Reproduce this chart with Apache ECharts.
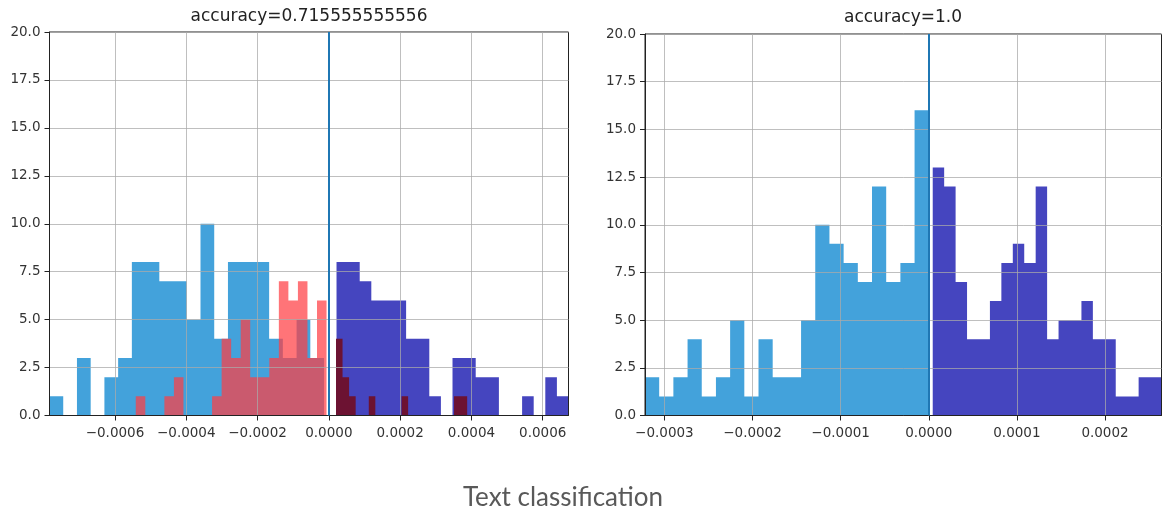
<!DOCTYPE html>
<html>
<head>
<meta charset="utf-8">
<script src="https://cdn.jsdelivr.net/npm/echarts@6/dist/echarts.min.js"></script>
<style>
html,body{margin:0;padding:0;background:#fff;}
#chart{width:1163px;height:513px;}
</style>
</head>
<body>
<div id="chart"></div>
<script>
// ---- data ----
const leftTitle = 'accuracy=0.715555555556';
const rightTitle = 'accuracy=1.0';
const caption = 'Text classification';

// left panel: histogram bins (start, bin width, counts)
const leftNegStart = -0.0007837, leftNegWidth = 0.00003851;
const leftNegCounts = [1,0,3,0,2,3,8,8,7,7,5,10,4,8,8,8,4,3,5,3];
const leftPosStart = 0.0000215, leftPosWidth = 0.00003254;
const leftPosCounts = [8,8,7,6,6,6,4,4,1,0,3,3,2,2,0,0,1,0,2,1];
const leftRedNegStart = -0.0005417, leftRedNegWidth = 0.00002676;
const leftRedNegCounts = [1,0,0,1,2,0,0,0,1,4,3,5,2,2,3,7,6,7,3,6];
const leftRedPosStart = 0.0000200, leftRedPosWidth = 0.0000184;
const leftRedPosCounts = [4,2,1,0,0,1,0,0,0,0,1,0,0,0,0,0,0,0,1,1];

// right panel
const rightNegStart = -0.000322, rightNegWidth = 0.0000161;
const rightNegCounts = [2,1,2,4,1,2,5,1,4,2,2,5,10,9,8,7,12,7,8,16];
const rightPosStart = 0.0000045, rightPosWidth = 0.00001298;
const rightPosCounts = [13,12,7,4,4,6,8,9,8,12,4,5,5,6,4,4,1,1,2,2];

// axis ticks
const leftXTicks = [-0.0006,-0.0004,-0.0002,0,0.0002,0.0004,0.0006];
const rightXTicks = [-0.0003,-0.0002,-0.0001,0,0.0001,0.0002];
const yTicks = [0,2.5,5,7.5,10,12.5,15,17.5,20];
const thresholdX = 0;

// ---- chart ----
const lightBlue = '#43a2db';
const darkBlue = '#4545bf';
const redAlpha = 'rgba(255,62,68,0.72)';
const maroon = '#6c1232';
const gridColor = 'rgba(170,170,170,0.75)';
const axisColor = '#222';
const font = 'DejaVu Sans';

const leftMin = leftNegStart, leftMax = leftPosStart + leftPosWidth * leftPosCounts.length;
const rightMin = rightNegStart, rightMax = rightPosStart + rightPosWidth * rightPosCounts.length;

function fmtX(v){
  const r = Math.round(v * 1e4) / 1e4;
  return (r < 0 ? '\u2212' : '') + Math.abs(r).toFixed(4);
}

// histogram drawn as a stepped filled line (one polygon per histogram, no seams)
function hist(idx, start, width, counts, color, z){
  const data = counts.map((c, i) => [start + i * width, c]);
  data.push([start + counts.length * width, counts[counts.length - 1]]);
  return {
    type: 'line', xAxisIndex: idx, yAxisIndex: idx, z: z, data: data, step: 'end',
    symbol: 'none', showSymbol: false, silent: true,
    lineStyle: {width: 0, opacity: 0},
    areaStyle: {color: color, opacity: 1, origin: 'start'}
  };
}

function xAxis(idx, min, max, step, ticks){
  return {
    type: 'value', gridIndex: idx, min: min, max: max, z: 4,
    minInterval: step, maxInterval: step,
    axisLine: {show: true, onZero: false, lineStyle: {color: axisColor, width: 1}},
    axisTick: {show: true, length: 5, customValues: ticks, lineStyle: {color: axisColor}},
    axisLabel: {customValues: ticks, formatter: fmtX, margin: 11, color: '#333', fontFamily: font, fontSize: 13.5},
    splitLine: {show: true, lineStyle: {color: gridColor, width: 1}}
  };
}
function yAxis(idx){
  return {
    type: 'value', gridIndex: idx, min: 0, max: 20, interval: 2.5, z: 4,
    axisLine: {show: true, onZero: false, lineStyle: {color: axisColor, width: 1}},
    axisTick: {show: true, length: 5, customValues: yTicks, lineStyle: {color: axisColor}},
    axisLabel: {customValues: yTicks, formatter: v => v.toFixed(1), margin: 9, color: '#333', fontFamily: font, fontSize: 13.5},
    splitLine: {show: true, lineStyle: {color: gridColor, width: 1}}
  };
}

const chart = echarts.init(document.getElementById('chart'), null, {renderer: 'canvas'});
function vline(){
  return {
    silent: true, symbol: 'none', z: 10, label: {show: false},
    lineStyle: {color: '#1f77b4', width: 2, type: 'solid'},
    data: [{xAxis: thresholdX}]
  };
}
const s0 = hist(0, leftNegStart, leftNegWidth, leftNegCounts, lightBlue, 2);
const s1 = hist(0, leftPosStart, leftPosWidth, leftPosCounts, darkBlue, 2);
const s2 = hist(0, leftRedNegStart, leftRedNegWidth, leftRedNegCounts, redAlpha, 3);
const s3 = hist(0, leftRedPosStart, leftRedPosWidth, leftRedPosCounts, maroon, 3);
s3.markLine = vline();
const s4 = hist(1, rightNegStart, rightNegWidth, rightNegCounts, lightBlue, 2);
const s5 = hist(1, rightPosStart, rightPosWidth, rightPosCounts, darkBlue, 2);
s5.markLine = vline();

chart.setOption({
  animation: false,
  grid: [
    {left: 49.5, top: 32, width: 519, height: 383.5, show: true, borderColor: axisColor, borderWidth: 1, z: 4},
    {left: 645, top: 34, width: 516.5, height: 381.5, show: true, borderColor: axisColor, borderWidth: 1, z: 4}
  ],
  xAxis: [xAxis(0, leftMin, leftMax, 0.0002, leftXTicks), xAxis(1, rightMin, rightMax, 0.0001, rightXTicks)],
  yAxis: [yAxis(0), yAxis(1)],
  series: [s0, s1, s2, s3, s4, s5],
  graphic: [
    {type: 'text', x: 309, y: 17, style: {text: leftTitle, font: '17px "DejaVu Sans"', fill: '#222', textAlign: 'center', textVerticalAlign: 'middle'}},
    {type: 'text', x: 903, y: 18, style: {text: rightTitle, font: '17px "DejaVu Sans"', fill: '#222', textAlign: 'center', textVerticalAlign: 'middle'}},
    {type: 'text', x: 563, y: 498, style: {text: caption, font: '26px Lato', fill: '#595959', textAlign: 'center', textVerticalAlign: 'middle'}}
  ]
});
</script>
</body>
</html>
